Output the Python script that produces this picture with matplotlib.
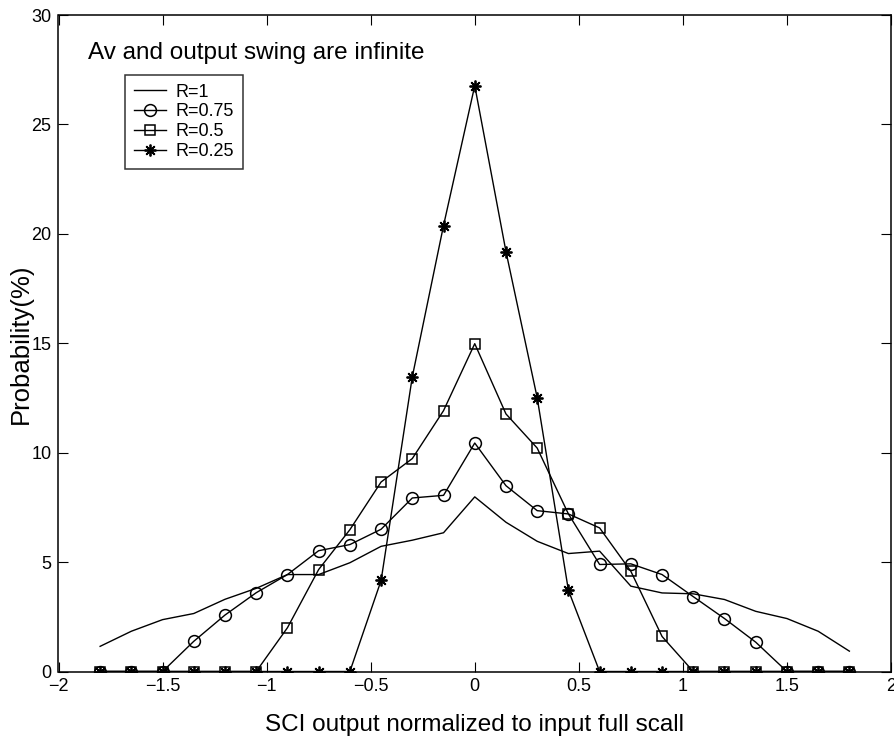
import numpy as np
import matplotlib
matplotlib.use('Agg')
import matplotlib.pyplot as plt

plt.rcParams['font.family'] = ['Liberation Sans', 'DejaVu Sans']

# x positions (normalized SCI output)
x = [-1.8, -1.65, -1.5, -1.35, -1.2, -1.05, -0.9, -0.75, -0.6, -0.45, -0.3, -0.15, 0.0,
     0.15, 0.3, 0.45, 0.6, 0.75, 0.9, 1.05, 1.2, 1.35, 1.5, 1.65, 1.8]

# probability (%) for each R
p_r1 = [1.15, 1.84, 2.37, 2.65, 3.3, 3.8, 4.43, 4.43, 4.97, 5.72, 6.0, 6.34, 7.98,
        6.82, 5.95, 5.39, 5.5, 3.9, 3.59, 3.55, 3.29, 2.75, 2.42, 1.84, 0.93]
p_r075 = [0, 0, 0, 1.38, 2.58, 3.6, 4.43, 5.52, 5.8, 6.5, 7.93, 8.05, 10.44,
          8.49, 7.35, 7.2, 4.89, 4.92, 4.43, 3.42, 2.42, 1.34, 0, 0, 0]
p_r05 = [0, 0, 0, 0, 0, 0, 2.0, 4.66, 6.48, 8.66, 9.73, 11.92, 14.98,
         11.77, 10.21, 7.2, 6.56, 4.58, 1.6, 0, 0, 0, 0, 0, 0]
p_r025 = [0, 0, 0, 0, 0, 0, 0, 0, 0, 4.16, 13.47, 20.38, 26.77,
          19.19, 12.51, 3.71, 0, 0, 0, 0, 0, 0, 0, 0, 0]

labels = ['R=1', 'R=0.75', 'R=0.5', 'R=0.25']

fig = plt.figure(figsize=(8.95, 7.37), dpi=100)
ax = fig.add_axes([58.5 / 895, 1 - 671.5 / 737, 832.5 / 895, 656.5 / 737])

lw = 1.0
ax.plot(x, p_r1, '-', color='k', lw=lw, label=labels[0])
ax.plot(x, p_r075, '-', color='k', lw=lw, marker='o', ms=8.5, mfc='none', mew=1.1, label=labels[1])
ax.plot(x, p_r05, '-', color='k', lw=lw, marker='s', ms=7, mfc='none', mew=1.1, label=labels[2])
ax.plot(x, p_r025, '-', color='k', lw=lw, marker=(8, 2, 0), ms=8.5, mew=1.3, label=labels[3])

ax.set_xlim(-2, 2)
ax.set_ylim(0, 30)
ax.set_xticks([-2, -1.5, -1, -0.5, 0, 0.5, 1, 1.5, 2])
ax.set_xticklabels(['\u22122', '\u22121.5', '\u22121', '\u22120.5', '0', '0.5', '1', '1.5', '2'])
ax.set_yticks([0, 5, 10, 15, 20, 25, 30])
ax.tick_params(direction='in', length=7, width=0.8, labelsize=13, top=True, right=True, pad=5)
for s in ax.spines.values():
    s.set_linewidth(1.1)

ax.set_xlabel('SCI output normalized to input full scall', fontsize=17.5)
ax.set_ylabel('Probability(%)', fontsize=18.5)
ax.xaxis.set_label_coords(0.5, -0.065)
ax.yaxis.set_label_coords(-0.031, 0.5)

ax.text(0.0354, 0.9325, 'Av and output swing are infinite', transform=ax.transAxes,
        fontsize=17.5, va='baseline', ha='left')

leg = ax.legend(loc='upper left', bbox_to_anchor=(0.08, 0.909), borderaxespad=0,
                fontsize=13, frameon=True, fancybox=False, handlelength=1.75,
                labelspacing=0.15, borderpad=0.5, handletextpad=0.55)
leg.get_frame().set_edgecolor('k')
leg.get_frame().set_linewidth(1.1)

fig.savefig('out.png', dpi=100)
